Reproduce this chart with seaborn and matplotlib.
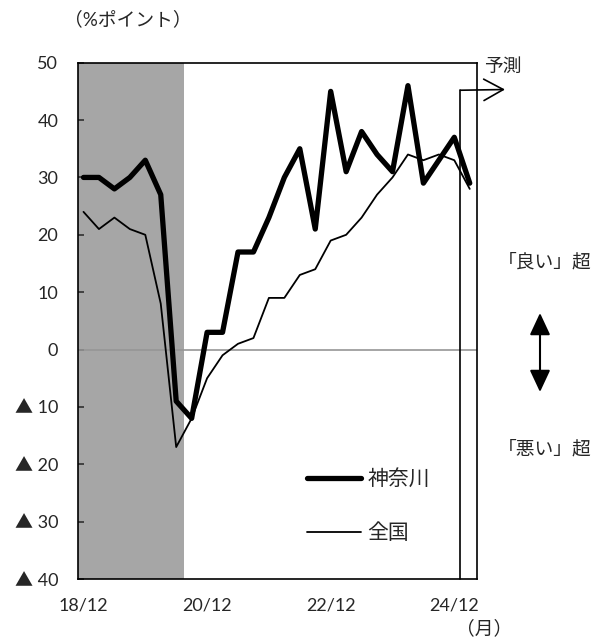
import matplotlib
matplotlib.use("Agg")
import matplotlib.pyplot as plt
import seaborn as sns
import pandas as pd
import numpy as np

# ---- data ----
quarters = ["18/12", "19/03", "19/06", "19/09", "19/12", "20/03", "20/06", "20/09",
            "20/12", "21/03", "21/06", "21/09", "21/12", "22/03", "22/06", "22/09",
            "22/12", "23/03", "23/06", "23/09", "23/12", "24/03", "24/06", "24/09",
            "24/12", "25/03"]
kanagawa = [30, 30, 28, 30, 33, 27, -9, -12, 3, 3, 17, 17, 23, 30, 35, 21,
            45, 31, 38, 34, 31, 46, 29, 33, 37, 29]
zenkoku = [24, 21, 23, 21, 20, 8, -17, -12, -5, -1, 1, 2, 9, 9, 13, 14,
           19, 20, 23, 27, 30, 34, 33, 34, 33, 28]
tick_labels = ["18/12", "20/12", "22/12", "24/12"]
y_ticks = [50, 40, 30, 20, 10, 0, -10, -20, -30, -40]
shade_end = 6.5        # shaded period ends between 20/06 and 20/09
forecast_start = 24.4  # forecast box begins after 24/12

sns.set_style("white")
plt.rcParams['font.family'] = ['Lato', 'Noto Sans CJK JP', 'DejaVu Sans']

W, H = 596, 640
fig = plt.figure(figsize=(W / 100, H / 100), dpi=100)
ax_l, ax_r, ax_t, ax_b = 77.7, 476.7, 62.7, 579.0
ax = fig.add_axes([ax_l / W, 1 - ax_b / H, (ax_r - ax_l) / W, (ax_b - ax_t) / H])

df = pd.DataFrame({"x": np.arange(len(quarters)), "q": quarters,
                   "神奈川": kanagawa, "全国": zenkoku})

xlim = (-0.375, 25.45)
ax.axvspan(xlim[0], shade_end, color="#a6a6a6", lw=0, zorder=0)
ax.axhline(0, color="#969696", lw=1.2, zorder=1)

sns.lineplot(data=df, x="x", y="全国", ax=ax, color="black", lw=1.3,
             label="全国", zorder=3)
sns.lineplot(data=df, x="x", y="神奈川", ax=ax, color="black", lw=3.8,
             label="神奈川", zorder=4)

ax.set_xlim(*xlim)
ax.set_ylim(-40, 50)
ax.set_xlabel("")
ax.set_ylabel("")

ax.set_xticks([quarters.index(t) for t in tick_labels])
ax.set_xticklabels(tick_labels)
ax.set_yticks(y_ticks)
ax.set_yticklabels([("▲ %d" % -v) if v < 0 else str(v) for v in y_ticks])
ax.tick_params(axis="x", length=0, pad=13, labelsize=13)
ax.tick_params(axis="y", direction="in", length=4.5, width=1.1, pad=14,
               labelsize=13, left=True)

for s in ax.spines.values():
    s.set_visible(True)
    s.set_color("black")
    s.set_linewidth(1.2)

# legend
h, l = ax.get_legend_handles_labels()
order = [l.index("神奈川"), l.index("全国")]
leg = ax.legend([h[i] for i in order], [l[i] for i in order],
                loc="center left", bbox_to_anchor=(0.574, 0.141),
                frameon=False, fontsize=15, handlelength=2.6,
                handletextpad=0.3, labelspacing=1.65, borderpad=0,
                borderaxespad=0)
for line in leg.get_lines():
    line.set_solid_capstyle("round")

# forecast box
y_top_box = 45.2
ax.plot([forecast_start, forecast_start], [-40, y_top_box], color="black",
        lw=1.2, clip_on=False, zorder=5)
ax.annotate("", xy=(505 / W, 1 - 89.5 / H), xycoords="figure fraction",
            xytext=(forecast_start, y_top_box), textcoords="data",
            arrowprops=dict(arrowstyle="->,head_length=1.0,head_width=0.55",
                            color="black", lw=1.2, mutation_scale=14,
                            shrinkA=0, shrinkB=0))
fig.text(484 / W, 1 - 66 / H, "予測", fontsize=13.5, va="center", ha="left")

# texts
fig.text(64 / W, 1 - 19 / H, "（%ポイント）", fontsize=13.5, va="center", ha="left")
fig.text(484 / W, 1 - 628 / H, "（月）", fontsize=13.5, va="center", ha="center")
fig.text(545 / W, 1 - 262 / H, "「良い」超", fontsize=13.5, va="center", ha="center")
fig.text(545 / W, 1 - 449 / H, "「悪い」超", fontsize=13.5, va="center", ha="center")
fig.add_artist(matplotlib.patches.FancyArrowPatch(
    (540 / W, 1 - 392 / H), (540 / W, 1 - 313 / H), transform=fig.transFigure,
    arrowstyle="<|-|>,head_length=0.75,head_width=0.35", mutation_scale=18,
    color="black", lw=1.5, shrinkA=0, shrinkB=0))

fig.savefig("out.png", dpi=100)
